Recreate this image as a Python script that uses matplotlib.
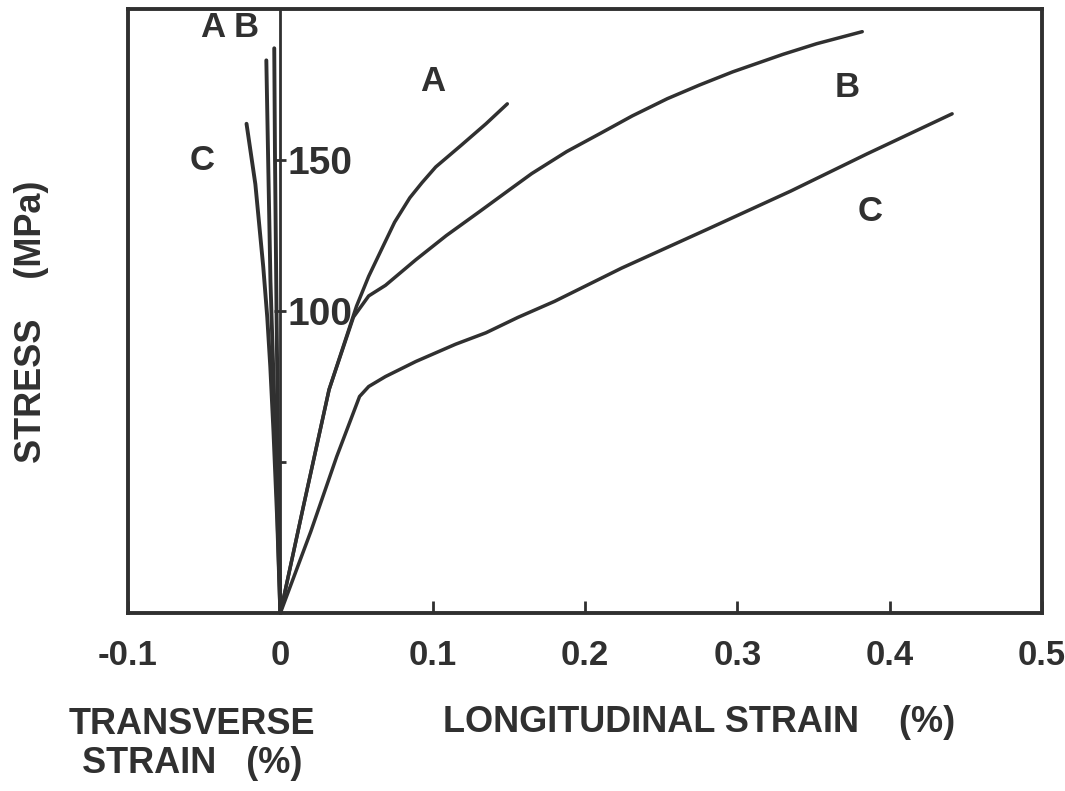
import matplotlib
matplotlib.use('Agg')
import matplotlib.pyplot as plt

plt.rcParams['font.family'] = ['Liberation Sans', 'DejaVu Sans']
plt.rcParams['font.weight'] = 'bold'

# longitudinal strain (%) vs stress (MPa)
long_a_x = [0, 0.015, 0.032, 0.050, 0.058, 0.067, 0.075, 0.085, 0.093, 0.102, 0.119, 0.135, 0.149]
long_a_y = [0, 35, 74, 101.6, 111.5, 121, 129.4, 137.5, 142.5, 147.7, 155, 162, 168.6]

long_b_x = [0, 0.015, 0.032, 0.048, 0.058, 0.069, 0.089, 0.109, 0.131, 0.150, 0.165,
            0.188, 0.210, 0.231, 0.254, 0.275, 0.297, 0.330, 0.352, 0.382]
long_b_y = [0, 35, 74, 98, 105, 108.5, 117, 125, 133, 140, 145.5,
            152.8, 158.8, 164.6, 170.3, 174.8, 179.2, 185, 188.5, 192.5]

long_c_x = [0, 0.020, 0.037, 0.052, 0.058, 0.069, 0.089, 0.115, 0.135, 0.156, 0.180,
            0.224, 0.280, 0.335, 0.385, 0.441]
long_c_y = [0, 27, 51.8, 71.7, 75, 78.3, 83.3, 89, 92.8, 97.9, 103.2,
            114.2, 127, 139.7, 152, 165.3]

# transverse strain (%) vs stress (MPa)
trans_a_x = [0, -0.0015, -0.004, -0.0065, -0.008, -0.0092]
trans_a_y = [0, 25, 70, 110, 150, 183]
trans_b_x = [0, -0.0012, -0.0025, -0.0035, -0.004]
trans_b_y = [0, 40, 100, 150, 187]
trans_c_x = [0, -0.002, -0.0045, -0.0066, -0.0086, -0.0112, -0.0164, -0.0222]
trans_c_y = [0, 30, 60, 81.6, 98, 114.5, 142, 162]

x_ticks = [-0.1, 0, 0.1, 0.2, 0.3, 0.4, 0.5]
x_labels = ['-0.1', '0', '0.1', '0.2', '0.3', '0.4', '0.5']
y_ticks = [50, 100, 150]
y_labels = ['', '100', '150']

ink = '#303030'
lw = 2.5

fig = plt.figure(figsize=(10.65, 7.91), dpi=100)
ax = fig.add_axes([0.1202, 0.225, 0.8582, 0.7636])

for xs, ys in [(long_a_x, long_a_y), (long_b_x, long_b_y), (long_c_x, long_c_y)]:
    ax.plot(xs, ys, color=ink, lw=lw, solid_joinstyle='round', solid_capstyle='round')
for xs, ys in [(trans_a_x, trans_a_y), (trans_b_x, trans_b_y), (trans_c_x, trans_c_y)]:
    ax.plot(xs, ys, color=ink, lw=2.8, solid_joinstyle='round', solid_capstyle='round')

ax.set_xlim(-0.1, 0.5)
ax.set_ylim(0, 200)

for s in ['left', 'top', 'bottom']:
    ax.spines[s].set_linewidth(2.8)
    ax.spines[s].set_color(ink)
# stress axis sits at zero strain
ax.spines['right'].set_position(('data', 0))
ax.spines['right'].set_linewidth(2.0)
ax.spines['right'].set_color(ink)
ax.axvline(0.5, color=ink, lw=2.8, clip_on=False)

ax.yaxis.set_ticks_position('right')
ax.set_yticks(y_ticks)
ax.set_yticklabels(y_labels)
ax.tick_params(axis='y', direction='inout', length=9, width=2, colors=ink, pad=1)
for t in ax.get_yticklabels():
    t.set_fontfamily(['Liberation Sans Narrow', 'Liberation Sans'])
    t.set_fontsize(28)
    t.set_fontweight('bold')

ax.xaxis.set_ticks_position('bottom')
ax.set_xticks(x_ticks)
ax.set_xticklabels(x_labels)
ax.tick_params(axis='x', direction='in', length=9, width=2, colors=ink, labelsize=25, pad=19)

# curve labels
lab = dict(fontsize=25, color=ink, ha='center', va='center', fontweight='bold')
ax.text(-0.0447, 194, 'A', **lab)
ax.text(-0.0223, 194, 'B', **lab)
ax.text(-0.0512, 150, 'C', **lab)
ax.text(0.0999, 176, 'A', **lab)
ax.text(0.372, 174, 'B', **lab)
ax.text(0.387, 133, 'C', **lab)

fig.text(0.030, 0.593, 'STRESS    (MPa)', rotation=90, fontsize=26, color=ink,
         ha='center', va='center', fontweight='bold')
fig.text(0.656, 0.087, 'LONGITUDINAL STRAIN    (%)', fontsize=26, color=ink,
         ha='center', va='center', fontweight='bold')
fig.text(0.180, 0.060, 'TRANSVERSE\nSTRAIN   (%)', fontsize=26, color=ink,
         ha='center', va='center', fontweight='bold', multialignment='center',
         linespacing=1.15)

fig.savefig('out.png', dpi=100, facecolor='white')
